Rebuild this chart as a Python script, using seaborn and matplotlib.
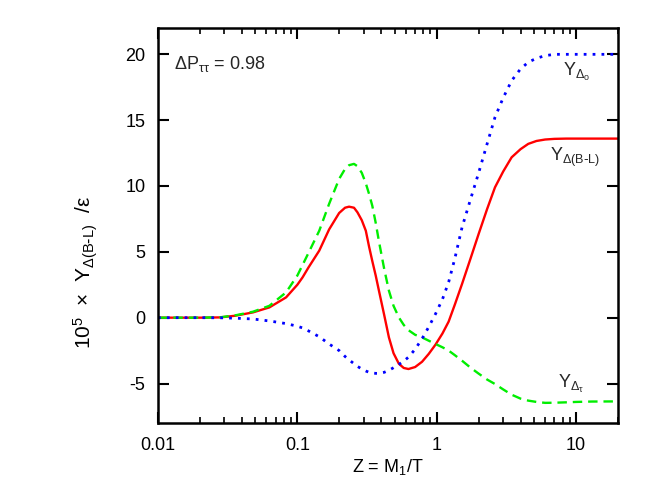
import numpy as np
import pandas as pd
import matplotlib
matplotlib.use("Agg")
import matplotlib.pyplot as plt
import seaborn as sns
from matplotlib.ticker import FixedLocator, FixedFormatter, LogLocator, NullFormatter

# ---- data ----
z = [0.01, 0.02, 0.028, 0.036, 0.048, 0.063, 0.083, 0.1, 0.109, 0.12, 0.1436, 0.169, 0.1995,
     0.22, 0.235, 0.255, 0.27, 0.29, 0.31, 0.327, 0.345, 0.365, 0.385, 0.42, 0.454,
     0.49, 0.535, 0.58, 0.627, 0.7, 0.785, 0.877, 0.98, 1.1, 1.218, 1.35, 1.52, 1.75,
     2.0, 2.3, 2.62, 3.0, 3.45, 4.0, 4.54, 5.2, 6.0, 7.0, 8.5, 10, 13, 20]

y_bl = [0.0, 0.0, 0.02, 0.15, 0.4, 0.78, 1.54, 2.5, 3.06, 3.8, 5.09, 6.7, 7.95,
        8.35, 8.43, 8.35, 8.0, 7.4, 6.6, 5.4, 4.3, 3.2, 2.05, 0.2, -1.5,
        -2.7, -3.5, -3.82, -3.9, -3.75, -3.35, -2.75, -2.05, -1.2, -0.3, 1.0, 2.56, 4.5,
        6.36, 8.25, 9.9, 11.1, 12.18, 12.8, 13.2, 13.42, 13.53, 13.58, 13.6, 13.6, 13.6, 13.6]

y_tau = [0.0, 0.0, 0.03, 0.18, 0.45, 0.9, 1.92, 3.2, 4.0, 4.9, 6.6, 8.64, 10.54,
         11.3, 11.58, 11.68, 11.5, 11.0, 10.2, 9.4, 8.5, 7.2, 5.8, 3.7, 2.05,
         0.9, 0.02, -0.55, -0.95, -1.3, -1.5, -1.75, -2.0, -2.25, -2.5, -2.85, -3.27, -3.8,
         -4.25, -4.7, -5.04, -5.45, -5.85, -6.15, -6.3, -6.4, -6.47, -6.46, -6.43, -6.4, -6.37, -6.36]

y_o = [0.0, 0.0, -0.01, -0.04, -0.1, -0.25, -0.45, -0.65, -0.78, -1.0, -1.45, -2.0, -2.5,
       -2.95, -3.2, -3.5, -3.7, -3.9, -4.05, -4.15, -4.2, -4.23, -4.23, -4.15, -4.0,
       -3.8, -3.55, -3.3, -3.0, -2.4, -1.6, -0.7, 0.28, 1.4, 2.7, 4.5, 6.86, 9.0,
       11.0, 13.2, 15.22, 16.7, 18.0, 18.9, 19.4, 19.7, 19.9, 20.0, 20.0, 20.0, 20.0, 20.0]

xticks = [0.01, 0.1, 1, 10]
xticklabels = ["0.01", "0.1", "1", "10"]
yticks = [-5, 0, 5, 10, 15, 20]
yticklabels = ["-5", "0", "5", "10", "15", "20"]

df = pd.DataFrame({"z": z, "bl": y_bl, "tau": y_tau, "o": y_o})

sns.set_theme(style="ticks")
plt.rcParams["font.family"] = ["Liberation Sans", "DejaVu Sans"]
plt.rcParams["mathtext.default"] = "regular"
plt.rcParams["axes.unicode_minus"] = False

fig = plt.figure(figsize=(6.54, 4.91), dpi=100)
ax = fig.add_axes([158 / 654, 1 - 423 / 491, 460 / 654, 395 / 491])

sns.lineplot(data=df, x="z", y="bl", ax=ax, color="#ff0000", lw=1.7, estimator=None, sort=False)
sns.lineplot(data=df, x="z", y="tau", ax=ax, color="#00ee00", lw=1.7, estimator=None, sort=False,
             linestyle=(0, (4, 2.5)))
sns.lineplot(data=df, x="z", y="o", ax=ax, color="#0000ff", lw=2.0, estimator=None, sort=False,
             linestyle=(0, (1.0, 2.2)))

ax.set_xscale("log")
ax.set_xlim(0.01, 20)
ax.set_ylim(-8, 22)

ax.xaxis.set_major_locator(FixedLocator(xticks))
ax.xaxis.set_major_formatter(FixedFormatter(xticklabels))
ax.xaxis.set_minor_locator(LogLocator(base=10, subs=np.arange(2, 10)))
ax.xaxis.set_minor_formatter(NullFormatter())
ax.set_yticks(yticks)
ax.set_yticklabels(yticklabels)

for s in ax.spines.values():
    s.set_linewidth(1.8)
    s.set_color("black")
    s.set_visible(True)

ax.tick_params(which="both", direction="in", top=True, right=True, bottom=True, left=True,
               color="black", labelcolor="black")
ax.tick_params(which="major", length=8, width=1.5, labelsize=13, pad=9)
ax.tick_params(which="minor", length=4, width=1.2)
ax.tick_params(axis="x", which="major", pad=10)

ax.set_xlabel("Z = M$_1$/T", fontsize=13, labelpad=2, color="black")
ax.set_ylabel(r"10$^5$  $\times$  Y$_{\Delta(B\text{-}L)}$  /$\varepsilon$", fontsize=15,
              color="black")
ax.yaxis.set_label_coords(-0.125, 0.38)

ax.text(0.0131, 18.9, r"$\Delta$P$_{\tau\tau}$ = 0.98", fontsize=13, ha="left", va="baseline")
ax.text(8.07, 18.4, r"Y$_{\Delta_o}$", fontsize=13, ha="left", va="baseline")
ax.text(6.52, 11.9, r"Y$_{\Delta(B\text{-}L)}$", fontsize=13, ha="left", va="baseline")
ax.text(7.43, -5.3, r"Y$_{\Delta_\tau}$", fontsize=13, ha="left", va="baseline")

fig.patch.set_facecolor("white")
fig.savefig("out.png", dpi=100)
